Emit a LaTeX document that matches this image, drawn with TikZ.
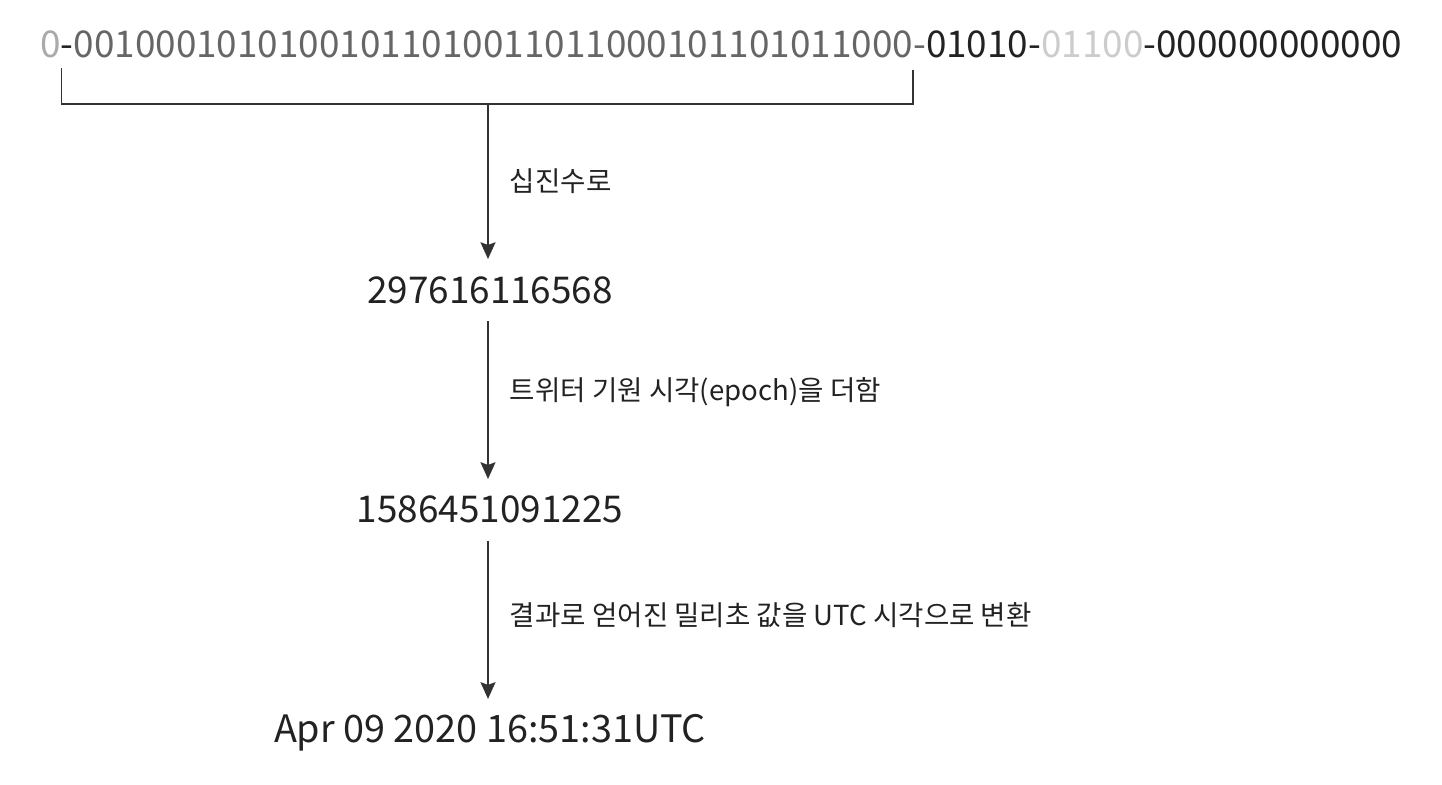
\documentclass[tikz,border=0pt]{standalone}
\usepackage{fontspec}
\setmainfont{Noto Sans CJK KR}
\usetikzlibrary{positioning,arrows.meta}
\definecolor{ink}{HTML}{222222}
\definecolor{bitgray}{HTML}{666666}
\definecolor{bitpale}{HTML}{AAAAAA}
\definecolor{bitfaint}{HTML}{CCCCCC}
\definecolor{linegray}{HTML}{333333}

\begin{document}
\begin{tikzpicture}[x=0.02cm,y=-0.02cm,
	conn/.style={line width=1.1pt,draw=linegray,-{Stealth[length=9.5pt,width=8.5pt,inset=1.5pt]}},
	brace/.style={line width=1.1pt,draw=linegray},
	num/.style={inner sep=0,outer sep=0.36cm,text height=0.52cm,text depth=0cm,text=ink,font=\fontsize{21}{26}\selectfont},
	lbl/.style={inner sep=0,text=ink,font=\fontsize{15.7}{19}\selectfont},
	node distance=3.16cm]
\useasboundingbox (0,0) rectangle (1442,784);
\node[anchor=base west,inner sep=0,font=\fontsize{21}{26}\selectfont](bits) at (40,58)
	{\textcolor{bitpale}{0}\textcolor{ink}{-}\textcolor{bitgray}{00100010101001011010011011000101101011000-}\textcolor{ink}{01010-}\textcolor{bitfaint}{01100}\textcolor{ink}{-000000000000}};
\coordinate (brl) at (61.5,68);
\coordinate (brr) at (913,70);
\coordinate (brk) at (488,104);
\draw[brace] (brl) |- (brk) -| (brr);
\node[num,anchor=base](dec) at (490,303){297616116568};
\node[num](ms)[below=of dec]{1586451091225};
\node[num,font=\fontsize{21.5}{26}\selectfont](utc)[below=of ms]{Apr 09 2020 16:51:31UTC};
\draw[conn] (brk) -- node[lbl,right=0.42cm]{십진수로} (brk |- dec.north);
\draw[conn] (dec.south -| brk) -- node[lbl,right=0.42cm,pos=0.45]{트위터 기원 시각(epoch)을 더함} (ms.north -| brk);
\draw[conn] (ms.south -| brk) -- node[lbl,right=0.42cm,pos=0.47]{결과로 얻어진 밀리초 값을 UTC 시각으로 변환} (utc.north -| brk);
\end{tikzpicture}
\end{document}
